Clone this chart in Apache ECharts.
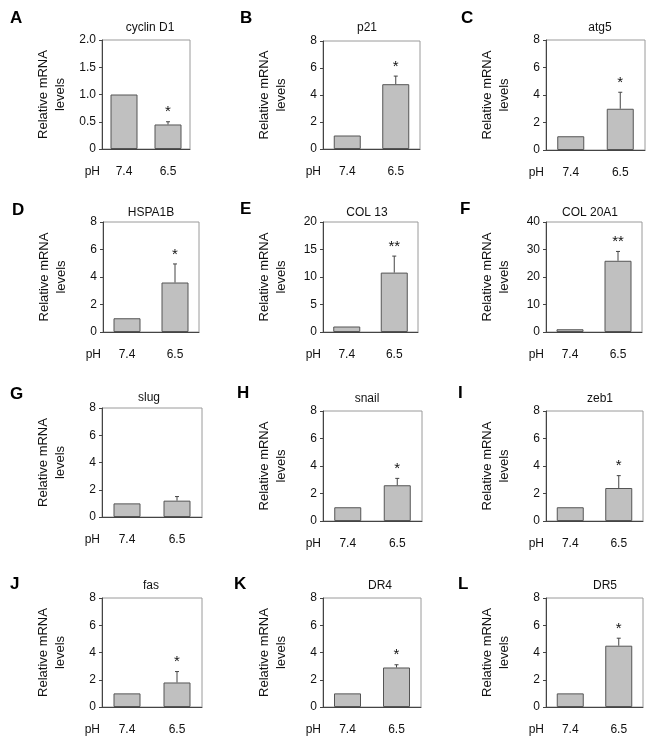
<!DOCTYPE html>
<html>
<head>
<meta charset="utf-8">
<script src="https://cdn.jsdelivr.net/npm/echarts@6/dist/echarts.min.js"></script>
<style>
  html, body { margin: 0; padding: 0; background: #fff; }
  #chart { width: 655px; height: 747px; }
</style>
</head>
<body>
<div id="chart"></div>
<script>
var letters = ['A', 'B', 'C', 'D', 'E', 'F', 'G', 'H', 'I', 'J', 'K', 'L'];
var genes = ['cyclin D1', 'p21', 'atg5', 'HSPA1B', 'COL 13', 'COL 20A1', 'slug', 'snail', 'zeb1', 'fas', 'DR4', 'DR5'];
var phLabels = ['7.4', '6.5'];
var control = [1, 1, 1, 1, 1, 1, 1, 1, 1, 1, 1, 1];
var acidic = [0.45, 4.8, 3.0, 3.6, 10.8, 25.9, 1.2, 2.6, 2.4, 1.8, 2.9, 4.5];
var acidicErr = [0.05, 0.6, 1.2, 1.35, 3.0, 3.4, 0.3, 0.5, 0.9, 0.8, 0.2, 0.55];
var stars = ['*', '*', '*', '*', '**', '**', '', '*', '*', '*', '*', '*'];
var yMax = [2, 8, 8, 8, 20, 40, 8, 8, 8, 8, 8, 8];
var yStep = [0.5, 2, 2, 2, 5, 10, 2, 2, 2, 2, 2, 2];

// layout per panel: plot box [left, right, top, bottom], letter [x, y], title [x, y]
var boxes = [
  [102, 190, 40, 149], [323, 420, 41, 149], [546, 645, 40, 150],
  [103, 199, 222, 332], [323, 418, 222, 332], [546, 642, 222, 332],
  [102, 202, 408, 517], [323, 422, 411, 521], [546, 643, 411, 521],
  [102, 202, 598, 707], [323, 421, 598, 707], [546, 643, 598, 707]
];
var letterPos = [
  [10, 18], [240, 18], [461, 18],
  [12, 210], [240, 209], [460, 209],
  [10, 394], [237, 393], [458, 393],
  [10, 584], [234, 584], [458, 584]
];
var titlePos = [
  [150, 28], [367, 28], [600, 28],
  [151, 213], [367, 213], [590, 213],
  [149, 398], [367, 399], [600, 399],
  [151, 586], [380, 586], [605, 586]
];

var FONT = '"Liberation Sans", Arial, sans-serif';
var chart = echarts.init(document.getElementById('chart'));

function errorBar(i) {
  return function (params, api) {
    var v = api.value(1), e = api.value(2);
    var base = api.coord([api.value(0), v]);
    var top = api.coord([api.value(0), v + e]);
    return {
      type: 'group',
      children: [
        { type: 'line', shape: { x1: base[0], y1: base[1], x2: top[0], y2: top[1] },
          style: { stroke: '#444', lineWidth: 1 } },
        { type: 'line', shape: { x1: top[0] - 2, y1: top[1], x2: top[0] + 2, y2: top[1] },
          style: { stroke: '#444', lineWidth: 1 } },
        { type: 'text', x: top[0], y: top[1] - 2,
          style: { text: stars[i], font: '15px ' + FONT, fill: '#111', align: 'center', verticalAlign: 'bottom' } }
      ]
    };
  };
}

var grids = [], xAxes = [], yAxes = [], series = [], graphics = [];

for (var i = 0; i < genes.length; i++) {
  var b = boxes[i];
  grids.push({
    left: b[0], top: b[2], width: b[1] - b[0], height: b[3] - b[2],
    show: true, borderColor: '#9a9a9a', borderWidth: 1, backgroundColor: 'transparent'
  });
  xAxes.push({
    type: 'category', gridIndex: i, data: phLabels,
    axisLine: { lineStyle: { color: '#444' } },
    axisTick: { alignWithLabel: true, length: 3, lineStyle: { color: '#444' } },
    axisLabel: { margin: 17, color: '#111', fontSize: 12, fontFamily: FONT }
  });
  yAxes.push({
    type: 'value', gridIndex: i, min: 0, max: yMax[i], interval: yStep[i],
    splitLine: { show: false },
    axisLine: { show: true, lineStyle: { color: '#444' } },
    axisTick: { show: true, length: 3, lineStyle: { color: '#444' } },
    axisLabel: {
      margin: 6, color: '#111', fontSize: 12, fontFamily: FONT,
      formatter: (function (step) {
        return function (v) { return v === 0 ? '0' : (step < 1 ? v.toFixed(1) : String(v)); };
      })(yStep[i])
    },
    name: 'Relative mRNA\nlevels', nameLocation: 'middle', nameRotate: 90, nameGap: 33,
    nameTextStyle: { fontSize: 13, lineHeight: 17, color: '#111', fontFamily: FONT }
  });
  series.push({
    type: 'bar', xAxisIndex: i, yAxisIndex: i, silent: true,
    data: [control[i], acidic[i]], barWidth: 27,
    itemStyle: { color: '#c0c0c0', borderColor: '#555', borderWidth: 1 }
  });
  series.push({
    type: 'custom', xAxisIndex: i, yAxisIndex: i, silent: true, z: 3,
    data: [[1, acidic[i], acidicErr[i]]],
    renderItem: errorBar(i)
  });
  graphics.push({
    type: 'text', x: letterPos[i][0], y: letterPos[i][1],
    style: { text: letters[i], font: 'bold 17px ' + FONT, fill: '#000', align: 'left', verticalAlign: 'middle' }
  });
  graphics.push({
    type: 'text', x: titlePos[i][0], y: titlePos[i][1],
    style: { text: genes[i], font: '12px ' + FONT, fill: '#111', align: 'center', verticalAlign: 'middle' }
  });
  graphics.push({
    type: 'text', x: b[0] - 2, y: b[3] + 23,
    style: { text: 'pH', font: '12px ' + FONT, fill: '#111', align: 'right', verticalAlign: 'middle' }
  });
}

chart.setOption({
  animation: false,
  backgroundColor: '#fff',
  grid: grids,
  xAxis: xAxes,
  yAxis: yAxes,
  series: series,
  graphic: graphics
});
</script>
</body>
</html>
